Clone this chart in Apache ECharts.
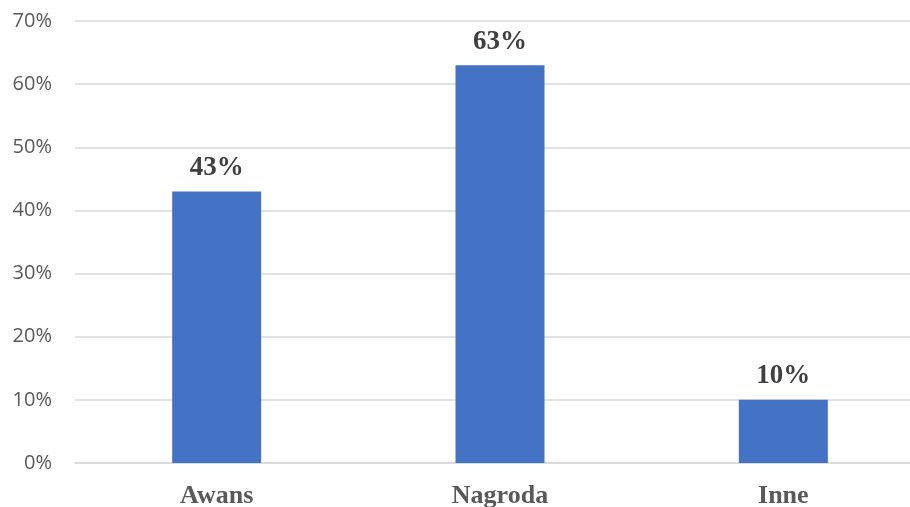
<!DOCTYPE html>
<html>
<head>
<meta charset="utf-8">
<script src="https://cdn.jsdelivr.net/npm/echarts@6/dist/echarts.min.js"></script>
<style>
  html, body { margin: 0; padding: 0; background: #fff; }
  #chart { width: 910px; height: 507px; }
</style>
</head>
<body>
<div id="chart"></div>
<script>
const categories = ['Awans', 'Nagroda', 'Inne']
const values = [43, 63, 10]
const yTicks = [0, 10, 20, 30, 40, 50, 60, 70]

const chart = echarts.init(document.getElementById('chart'))
chart.setOption({
  animation: false,
  grid: { left: 75, width: 850, top: 21, bottom: 44, outerBoundsMode: 'none' },
  xAxis: {
    type: 'category',
    data: categories,
    axisLine: { lineStyle: { color: '#d9d9d9', width: 1.5 } },
    axisTick: { show: false },
    axisLabel: {
      margin: 20,
      fontFamily: 'Liberation Serif',
      fontWeight: 'bold',
      fontSize: 26,
      color: '#595959'
    }
  },
  yAxis: {
    type: 'value',
    min: yTicks[0],
    max: yTicks[yTicks.length - 1],
    interval: 10,
    axisLine: { show: false },
    axisTick: { show: false },
    splitLine: { lineStyle: { color: '#d9d9d9', width: 1.5 } },
    axisLabel: {
      margin: 23,
      fontFamily: 'Open Sans',
      fontSize: 20,
      color: '#595959',
      formatter: v => v + '%'
    }
  },
  series: [{
    type: 'bar',
    data: values,
    barWidth: 89,
    itemStyle: { color: '#4472c4' },
    label: {
      show: true,
      position: 'top',
      distance: 10,
      fontFamily: 'Liberation Serif',
      fontWeight: 'bold',
      fontSize: 27,
      color: '#404040',
      formatter: p => p.value + '%'
    }
  }]
})
</script>
</body>
</html>
